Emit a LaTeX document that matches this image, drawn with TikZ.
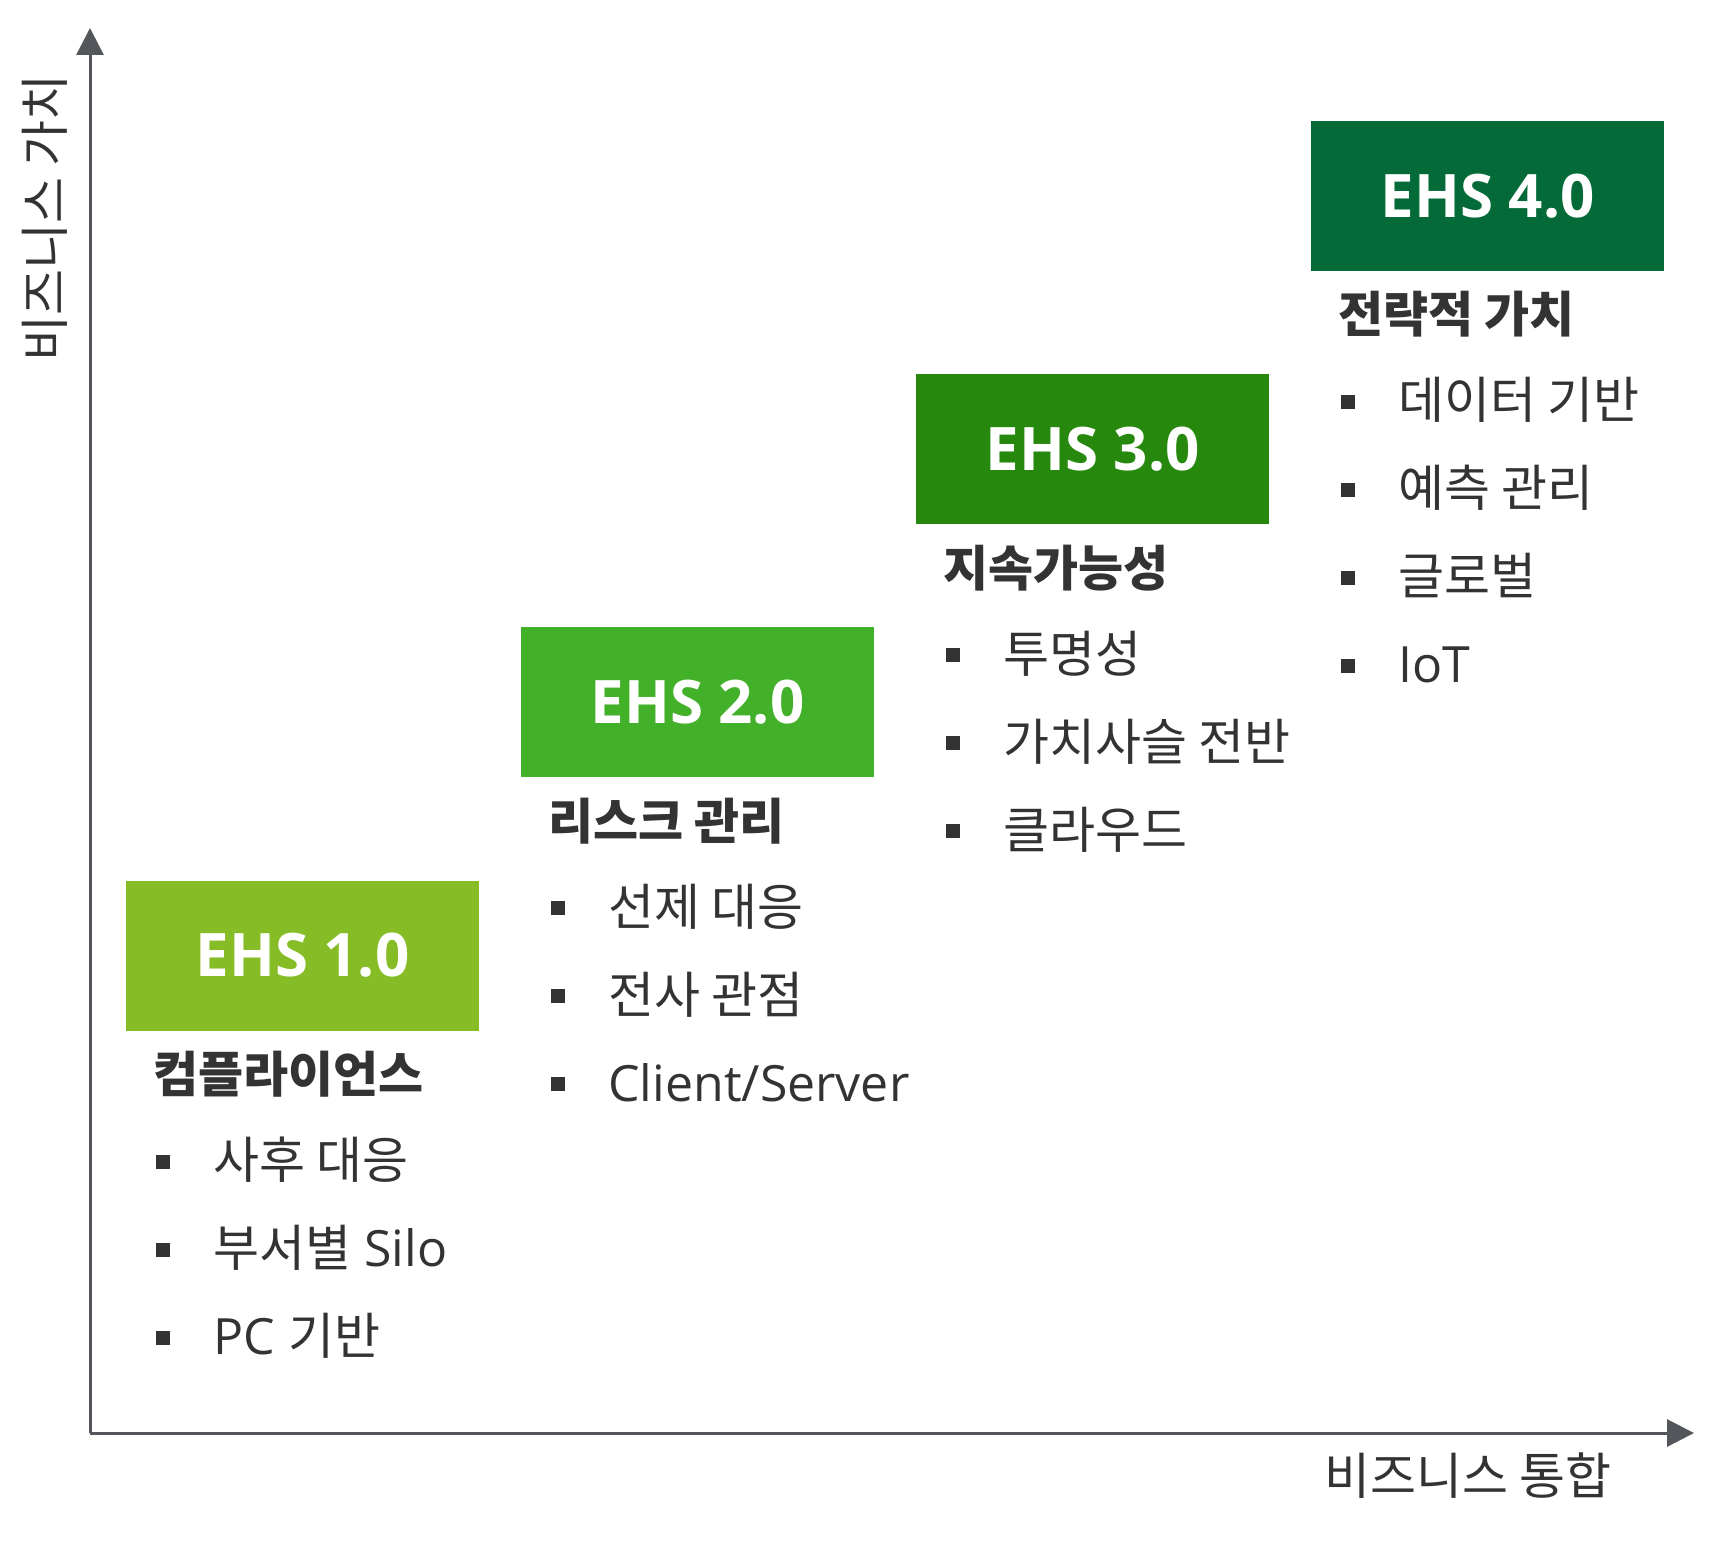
\documentclass[tikz,border=0pt]{standalone}
\usepackage{fontspec}
\setmainfont{Open Sans}
\newfontfamily\kr{Noto Sans CJK KR}
\usepackage{tikz}
\usetikzlibrary{arrows.meta,positioning}
\definecolor{ehsone}{HTML}{86BC25}
\definecolor{ehstwo}{HTML}{43B02A}
\definecolor{ehsthree}{HTML}{26890D}
\definecolor{ehsfour}{HTML}{046A38}
\definecolor{textgray}{HTML}{333333}
\definecolor{axisgray}{HTML}{53565A}
\newcommand{\sqbullet}{\makebox[28.5pt][l]{\raisebox{5pt}{\rule{7pt}{7pt}}}}
\tikzset{
  stagebox/.style={rectangle, inner sep=0pt, outer sep=0pt,
                   minimum width=176.5pt, minimum height=75pt,
                   text height=21.4pt, text depth=0pt, text=white,
                   font=\fontsize{30}{36}\selectfont\bfseries},
  headtext/.style={anchor=base west, inner sep=0pt, text=textgray,
                   font=\kr\fontsize{24.5}{29}\selectfont\bfseries},
  itemtext/.style={anchor=base west, inner sep=0pt, text=textgray,
                   font=\fontsize{25}{30}\selectfont},
  axislabel/.style={inner sep=0pt, text=textgray,
                    font=\kr\fontsize{25}{30}\selectfont},
  axisarrow/.style={draw=axisgray, line width=1.5pt,
                    -{Triangle[length=13.5pt, width=13.5pt]}},
}
\begin{document}
\begin{tikzpicture}[x=0.5pt, y=-0.5pt, node distance=51.6pt and 21pt]
    \useasboundingbox (0,0) rectangle (1723,1541);
    % axes
    \coordinate (origin) at (90,1433);
    \coordinate (ytip) at (90,28);
    \coordinate (xtip) at (1694,1433);
    \draw[axisarrow] (origin) -- (ytip);
    \draw[axisarrow] (origin) -- (xtip);
    \node[axislabel, rotate=90] (ylab) at (45,218) {비즈니스 가치};
    \node[axislabel, anchor=base] (xlab) at (1468,1494) {비즈니스 통합};
    % stages
    \node[stagebox, fill=ehsone] (box1) at (302.5,955.5) {EHS 1.0};
    \node[stagebox, fill=ehstwo, above right=of box1] (box2) {EHS 2.0};
    \node[stagebox, fill=ehsthree, above right=of box2] (box3) {EHS 3.0};
    \node[stagebox, fill=ehsfour, above right=of box3] (box4) {EHS 4.0};
    % EHS 1.0
    \node[headtext] (head1) at ([shift={(13.5pt,-31pt)}]box1.south west) {컴플라이언스};
    \node[itemtext] (item1a) at ([shift={(1.5pt,-43pt)}]head1.base west) {\sqbullet{\kr 사후 대응}};
    \node[itemtext] (item1b) at ([yshift=-44pt]item1a.base west) {\sqbullet{\kr 부서별} Silo};
    \node[itemtext] (item1c) at ([yshift=-44pt]item1b.base west) {\sqbullet PC {\kr 기반}};
    % EHS 2.0
    \node[headtext] (head2) at ([shift={(13.5pt,-31pt)}]box2.south west) {리스크 관리};
    \node[itemtext] (item2a) at ([shift={(1.5pt,-43pt)}]head2.base west) {\sqbullet{\kr 선제 대응}};
    \node[itemtext] (item2b) at ([yshift=-44pt]item2a.base west) {\sqbullet{\kr 전사 관점}};
    \node[itemtext] (item2c) at ([yshift=-44pt]item2b.base west) {\sqbullet Client/Server};
    % EHS 3.0
    \node[headtext] (head3) at ([shift={(13.5pt,-31pt)}]box3.south west) {지속가능성};
    \node[itemtext] (item3a) at ([shift={(1.5pt,-43pt)}]head3.base west) {\sqbullet{\kr 투명성}};
    \node[itemtext] (item3b) at ([yshift=-44pt]item3a.base west) {\sqbullet{\kr 가치사슬 전반}};
    \node[itemtext] (item3c) at ([yshift=-44pt]item3b.base west) {\sqbullet{\kr 클라우드}};
    % EHS 4.0
    \node[headtext] (head4) at ([shift={(13.5pt,-31pt)}]box4.south west) {전략적 가치};
    \node[itemtext] (item4a) at ([shift={(1.5pt,-43pt)}]head4.base west) {\sqbullet{\kr 데이터 기반}};
    \node[itemtext] (item4b) at ([yshift=-44pt]item4a.base west) {\sqbullet{\kr 예측 관리}};
    \node[itemtext] (item4c) at ([yshift=-44pt]item4b.base west) {\sqbullet{\kr 글로벌}};
    \node[itemtext] (item4d) at ([yshift=-44pt]item4c.base west) {\sqbullet IoT};
\end{tikzpicture}
\end{document}
